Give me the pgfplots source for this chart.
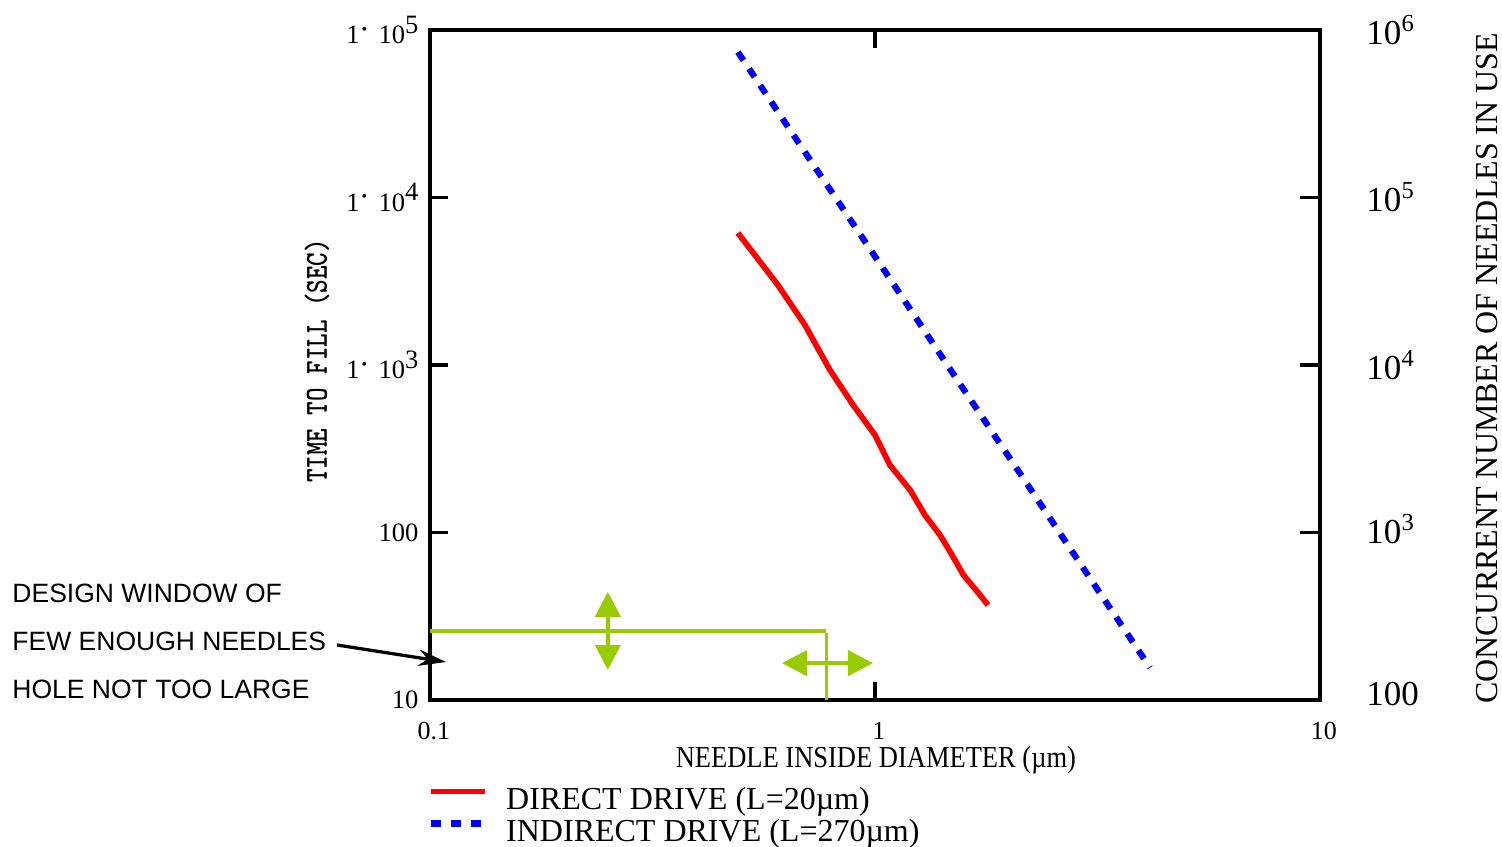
\documentclass[border=0pt]{standalone}
\usepackage{fontspec}
\setmainfont{Liberation Serif}
\setsansfont{Liberation Sans}
\usepackage{graphicx}
\usepackage{pgfplots}
\pgfplotsset{compat=1.18}
\usetikzlibrary{arrows.meta}

\definecolor{agreen}{RGB}{153,204,0}
\definecolor{dred}{RGB}{255,0,0}
\definecolor{dblue}{RGB}{0,0,255}

% left tick label of the form 1.10^n
\newcommand{\lab}[1]{1\hspace{0.8pt}\raisebox{3.8pt}{\scalebox{0.6}{\textbullet}}\hspace{4.6pt}10\raisebox{4.2pt}{#1}}

\begin{document}
\begin{tikzpicture}
\begin{axis}[
    at={(0,0)}, anchor=south west,
    scale only axis, width=356pt, height=268pt,
    xmode=log, ymode=log,
    xmin=0.1, xmax=10, ymin=10, ymax=100000,
    xminorticks=false, yminorticks=false,
    xtick={0.1,1,10}, xticklabels={0.1,1,10},
    ytick={10,100,1000,10000,100000},
    yticklabels={10,100,\lab{3},\lab{4},\lab{5}},
    ytick pos=left,
    tick align=inside,
    major tick length=7.2pt,
    axis line style={line width=1.3pt},
    every tick/.style={black, line width=1.3pt},
    xticklabel style={font=\fontsize{10.4}{12}\selectfont, inner sep=0pt, anchor=north, yshift=-8.8pt, xshift=1.6pt},
    yticklabel style={font=\fontsize{10.6}{12}\selectfont, inner sep=0pt, anchor=east, xshift=-4.4pt},
    xlabel={\scalebox{1}[1.15]{NEEDLE INSIDE DIAMETER (µm)}},
    every axis x label/.style={at={(rel axis cs:0.501,0)}, anchor=center, yshift=-24pt, font=\fontsize{10.6}{12}\selectfont},
    ylabel={\scalebox{1}[1.25]{\bfseries\ttfamily TIME TO FILL (SEC)}},
    every axis y label/.style={at={(rel axis cs:0,0.506)}, anchor=center, xshift=-45.2pt, rotate=90, font=\fontsize{10.3}{12}\selectfont},
    legend cell align=left,
    legend image code/.code={\draw[#1] (0pt,3.4pt) -- (21.6pt,3.4pt);},
    legend style={at={(rel axis cs:0,0)}, anchor=north west, xshift=-0.8pt, yshift=-34.8pt,
        draw=none, fill=none, inner sep=0pt, outer sep=0pt,
        nodes={inner sep=0pt}, row sep=2.4pt, column sep=7.2pt,
        font=\fontsize{12.8}{14}\selectfont},
]
\addplot[dred, line width=2.3pt] coordinates {
    (0.492,6140) (0.605,3005) (0.696,1733) (0.792,934) (0.893,577)
    (1.0,382) (1.08,253) (1.20,179) (1.295,127) (1.40,96.6)
    (1.49,73.4) (1.58,55.8) (1.70,44.2) (1.795,36.9)
};
\addlegendentry{DIRECT DRIVE (L=20µm)}
\addplot[dblue, line width=2.5pt, dash pattern=on 4pt off 4pt] coordinates {
    (0.492,73900) (0.70,18230) (1.0,4450) (1.474,947)
    (2.174,203) (3.203,43.5) (4.15,15.6)
};
\addlegendentry{INDIRECT DRIVE (L=270µm)}

% design window marks
\draw[agreen, line width=1.3pt] (axis cs:0.1,25.8) -- (axis cs:0.776,25.8);
\draw[agreen, line width=1.3pt] (axis cs:0.778,25.0) -- (axis cs:0.778,10);
\draw[agreen, line width=1.6pt, {Triangle[width=10pt,length=10pt]}-{Triangle[width=10pt,length=10pt]}]
    (axis cs:0.251,44.2) -- (axis cs:0.251,15.1);
\draw[agreen, line width=1.6pt, {Triangle[width=10pt,length=10pt]}-{Triangle[width=10pt,length=10pt]}]
    (axis cs:0.618,16.6) -- (axis cs:0.99,16.6);
\end{axis}

\begin{axis}[
    at={(0,0)}, anchor=south west,
    scale only axis, width=356pt, height=268pt,
    xmode=log, xmin=0.1, xmax=10,
    ymode=log, ymin=100, ymax=1000000,
    hide x axis,
    axis y line*=right,
    yminorticks=false,
    ytick={100,1000,10000,100000,1000000},
    yticklabels={\raisebox{4.8pt}{100},\raisebox{2.8pt}{10\textsuperscript{3}},\raisebox{-2.8pt}{10\textsuperscript{4}},10\textsuperscript{5},\raisebox{-3.2pt}{10\textsuperscript{6}}},
    tick align=inside,
    major tick length=8pt,
    axis line style={line width=1.3pt},
    every tick/.style={black, line width=1.3pt},
    yticklabel style={font=\fontsize{14}{16}\selectfont, inner sep=0pt, anchor=west, xshift=18.4pt},
    ylabel={CONCURRENT NUMBER OF NEEDLES IN USE},
    every axis y label/.style={at={(rel axis cs:1,0.495)}, anchor=center, xshift=66.8pt, rotate=90, font=\fontsize{12.8}{14}\selectfont},
]
\end{axis}

\draw[line width=1.3pt, -{Stealth[length=11pt,width=6.5pt]}] (-37.2pt,22pt) -- (6.4pt,15.2pt);
\begin{scope}[every node/.style={anchor=base west, inner sep=0pt, font=\sffamily\fontsize{10.6}{12}\selectfont}]
\node at (-167.2pt,39pt) {DESIGN WINDOW OF};
\node at (-167.2pt,19.8pt) {FEW ENOUGH NEEDLES};
\node at (-167.2pt,0.6pt) {HOLE NOT TOO LARGE};
\end{scope}

\pgfresetboundingbox
\path[use as bounding box] (-172pt,-58.4pt) rectangle (428.8pt,280pt);
\end{tikzpicture}
\end{document}
